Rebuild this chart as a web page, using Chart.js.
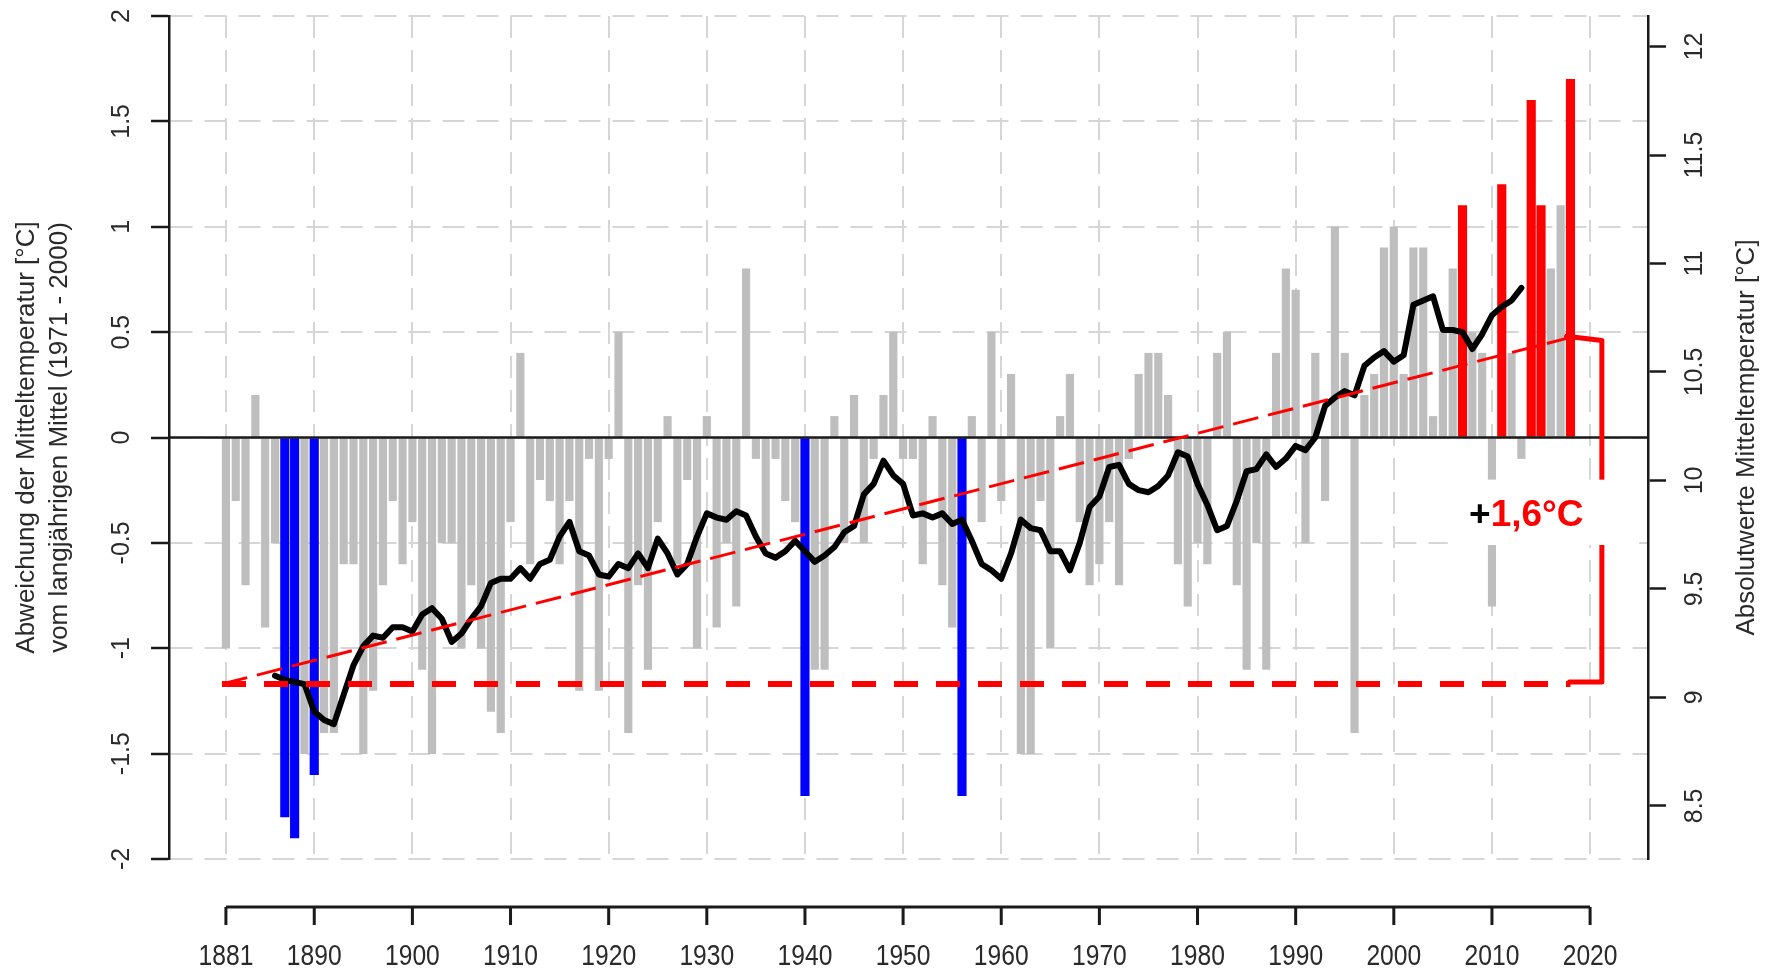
<!DOCTYPE html>
<html lang="de">
<head>
    <meta charset="UTF-8">
    <title>Abweichung der Mitteltemperatur 1881 - 2018</title>
    <script src="https://cdn.jsdelivr.net/npm/chart.js"></script>
    <style>
        html, body {
            margin: 0;
            padding: 0;
            background: #fff;
        }

        #wrap {
            width: 1778px;
            height: 972px;
        }
    </style>
</head>
<body>
    <div id="wrap">
        <canvas id="tempChart" width="1778" height="972"></canvas>
    </div>

    <script>
        // Jahresabweichung vom Mittel 1971-2000, 1881 bis 2018
        const firstYear = 1881;
        const anomalies = [
            -1.0, -0.3, -0.7, 0.2, -0.9, -0.5, -1.8, -1.9, -1.5, -1.6,   // 1881-1890
            -1.4, -1.4, -0.6, -0.6, -1.5, -1.2, -0.7, -0.3, -0.6, -0.4,  // 1891-1900
            -1.1, -1.5, -0.5, -0.5, -1.0, -0.7, -1.0, -1.3, -1.4, -0.4,  // 1901-1910
            0.4, -0.6, -0.2, -0.3, -0.6, -0.3, -1.2, -0.1, -1.2, -0.1,   // 1911-1920
            0.5, -1.4, -0.7, -1.1, -0.4, 0.1, -0.6, -0.2, -1.0, 0.1,     // 1921-1930
            -0.9, -0.5, -0.8, 0.8, -0.1, -0.5, -0.1, -0.3, -0.4, -1.7,   // 1931-1940
            -1.1, -1.1, 0.1, -0.5, 0.2, -0.5, -0.1, 0.2, 0.5, -0.1,      // 1941-1950
            -0.1, -0.6, 0.1, -0.7, -0.9, -1.7, 0.1, -0.4, 0.5, -0.3,     // 1951-1960
            0.3, -1.5, -1.5, -0.3, -1.0, 0.1, 0.3, -0.4, -0.7, -0.6,     // 1961-1970
            -0.4, -0.7, -0.1, 0.3, 0.4, 0.4, 0.2, -0.6, -0.8, -0.5,      // 1971-1980
            -0.6, 0.4, 0.5, -0.7, -1.1, -0.5, -1.1, 0.4, 0.8, 0.7,       // 1981-1990
            -0.5, 0.4, -0.3, 1.0, 0.4, -1.4, 0.2, 0.3, 0.9, 1.0,         // 1991-2000
            0.3, 0.9, 0.9, 0.1, 0.5, 0.8, 1.1, 0.5, 0.4, -0.8,           // 2001-2010
            1.2, 0.4, -0.1, 1.6, 1.1, 0.8, 1.1, 1.7                      // 2011-2018
        ];

        // die kaeltesten und waermsten Jahre
        const coldYears = [1887, 1888, 1890, 1940, 1956];
        const warmYears = [2007, 2011, 2014, 2015, 2018];

        // gleitendes Mittel (schwarze Linie)
        const meanFirstYear = 1886;
        const runningMean = [
            -1.13, -1.15, -1.16, -1.17, -1.30, -1.34, -1.36, -1.22, -1.08, -0.99, // 1886-1895
            -0.94, -0.95, -0.90, -0.90, -0.92, -0.84, -0.81, -0.86, -0.97, -0.93, // 1896-1905
            -0.86, -0.80, -0.69, -0.67, -0.67, -0.62, -0.67, -0.60, -0.58, -0.47, // 1906-1915
            -0.40, -0.54, -0.56, -0.65, -0.66, -0.60, -0.62, -0.55, -0.62, -0.48, // 1916-1925
            -0.55, -0.65, -0.60, -0.47, -0.36, -0.38, -0.39, -0.35, -0.37, -0.47, // 1926-1935
            -0.55, -0.57, -0.54, -0.49, -0.54, -0.59, -0.56, -0.52, -0.45, -0.42, // 1936-1945
            -0.27, -0.22, -0.11, -0.18, -0.22, -0.37, -0.36, -0.38, -0.36, -0.41, // 1946-1955
            -0.39, -0.49, -0.60, -0.63, -0.67, -0.55, -0.39, -0.43, -0.44, -0.54, // 1956-1965
            -0.54, -0.63, -0.50, -0.33, -0.28, -0.14, -0.13, -0.22, -0.25, -0.26, // 1966-1975
            -0.23, -0.18, -0.07, -0.09, -0.22, -0.32, -0.44, -0.42, -0.30, -0.16, // 1976-1985
            -0.15, -0.08, -0.14, -0.10, -0.04, -0.06, 0.00, 0.15, 0.19, 0.22,     // 1986-1995
            0.20, 0.34, 0.38, 0.41, 0.36, 0.39, 0.63, 0.65, 0.67, 0.51,           // 1996-2005
            0.51, 0.50, 0.42, 0.49, 0.58, 0.62, 0.65, 0.71                        // 2006-2013
        ];

        // linearer Trend und Bezugslinie
        const trendYears = [1880.6, 2018];
        const trendValues = [-1.17, 0.475];
        const baseYears = [1880.6, 2018];
        const baseValues = [-1.17, -1.17];

        // Klammer rechts und Beschriftung
        const bracketYears = [2017.6, 2021.2, 2021.2, 2017.9];
        const bracketValues = [0.48, 0.46, -1.16, -1.16];
        const labelBoxYears = [2005.5, 2025.0];
        const labelBoxValues = [-0.51, -0.2];
        const labelYear = 2013.5;
        const labelValue = -0.42;
        const labelPlus = '+';
        const labelText = '1,6°C';

        // Achsen
        const xTicks = [1881, 1890, 1900, 1910, 1920, 1930, 1940, 1950, 1960, 1970, 1980, 1990, 2000, 2010, 2020];
        const leftTicks = [-2, -1.5, -1, -0.5, 0, 0.5, 1, 1.5, 2];
        const rightTicks = [8.5, 9, 9.5, 10, 10.5, 11, 11.5, 12];
        const leftTitle = ['Abweichung der Mitteltemperatur [°C]', 'vom langjährigen Mittel (1971 - 2000)'];
        const rightTitle = 'Absolutwerte Mitteltemperatur [°C]';

        const years = anomalies.map((v, i) => firstYear + i);
        const allBars = years.map((yr, i) => ({ x: yr, y: anomalies[i] }));
        const grayBars = allBars.filter(p => !coldYears.includes(p.x) && !warmYears.includes(p.x));
        const blueBars = allBars.filter(p => coldYears.includes(p.x));
        const redBars = allBars.filter(p => warmYears.includes(p.x));
        const meanPoints = runningMean.map((v, i) => ({ x: meanFirstYear + i, y: v }));
        const toPoints = (xs, ys) => xs.map((v, i) => ({ x: v, y: ys[i] }));

        const gridColor = '#d6d6d6';
        const axisColor = '#1a1a1a';
        const textColor = '#2a2a2a';
        const sansFont = "'Liberation Sans', Arial, sans-serif";

        function lineSet(points, color, width, dash, order) {
            return {
                type: 'line',
                data: points,
                borderColor: color,
                borderWidth: width,
                borderDash: dash,
                borderJoinStyle: 'round',
                borderCapStyle: dash.length ? 'butt' : 'round',
                pointRadius: 0,
                fill: false,
                tension: 0,
                order: order
            };
        }

        function drawRotated(ctx, text, x, y, font, color) {
            ctx.save();
            ctx.translate(x, y);
            ctx.rotate(-Math.PI / 2);
            ctx.font = font;
            ctx.fillStyle = color;
            ctx.textAlign = 'center';
            ctx.textBaseline = 'middle';
            ctx.fillText(text, 0, 0);
            ctx.restore();
        }

        const decor = {
            id: 'decor',
            afterDatasetDraw(chart, args) {
                // Nulllinie ueber den Balken, unter den Linien
                if (args.index !== 2) return;
                const { ctx, chartArea, scales } = chart;
                const y0 = scales.y.getPixelForValue(0);
                ctx.save();
                ctx.strokeStyle = axisColor;
                ctx.lineWidth = 2.5;
                ctx.beginPath();
                ctx.moveTo(chartArea.left, y0);
                ctx.lineTo(chartArea.right, y0);
                ctx.stroke();
                ctx.restore();
            },
            afterDatasetsDraw(chart) {
                const { ctx, scales: { x, y } } = chart;
                const left = x.getPixelForValue(labelBoxYears[0]);
                const right = x.getPixelForValue(labelBoxYears[1]);
                const top = y.getPixelForValue(labelBoxValues[1]);
                const bottom = y.getPixelForValue(labelBoxValues[0]);
                ctx.save();
                ctx.fillStyle = '#fff';
                ctx.fillRect(left, top, right - left, bottom - top);

                ctx.font = "bold 37px " + sansFont;
                ctx.textBaseline = 'alphabetic';
                ctx.textAlign = 'left';
                const wPlus = ctx.measureText(labelPlus).width;
                const wText = ctx.measureText(labelText).width;
                const cx = x.getPixelForValue(labelYear);
                const by = y.getPixelForValue(labelValue);
                const startX = cx - (wPlus + wText) / 2;
                ctx.fillStyle = '#000';
                ctx.fillText(labelPlus, startX, by);
                ctx.fillStyle = '#ff0000';
                ctx.fillText(labelText, startX + wPlus, by);
                ctx.restore();
            },
            afterDraw(chart) {
                const { ctx, chartArea, scales: { x, y, y2 } } = chart;
                const tickFont = "25px " + sansFont;

                // linke Achse: Beschriftung gedreht
                leftTicks.forEach(v => {
                    drawRotated(ctx, String(v), chartArea.left - 47, y.getPixelForValue(v), tickFont, textColor);
                });
                // rechte Achse
                rightTicks.forEach(v => {
                    drawRotated(ctx, String(v), chartArea.right + 47, y2.getPixelForValue(v), tickFont, textColor);
                });

                // Achsentitel
                const midY = (chartArea.top + chartArea.bottom) / 2;
                drawRotated(ctx, leftTitle[0], 27, midY, "26px " + sansFont, textColor);
                drawRotated(ctx, leftTitle[1], 60, midY, "26px " + sansFont, textColor);
                drawRotated(ctx, rightTitle, chartArea.right + 99, midY, "26px " + sansFont, textColor);

                // abgesetzte x-Achse unten
                const axisY = chartArea.bottom + 48;
                const x0 = x.getPixelForValue(xTicks[0]);
                const x1 = x.getPixelForValue(xTicks[xTicks.length - 1]);
                ctx.save();
                ctx.strokeStyle = axisColor;
                ctx.lineWidth = 3;
                ctx.beginPath();
                ctx.moveTo(x0, axisY);
                ctx.lineTo(x1, axisY);
                xTicks.forEach(v => {
                    const px = x.getPixelForValue(v);
                    ctx.moveTo(px, axisY);
                    ctx.lineTo(px, axisY + 18);
                });
                ctx.stroke();

                // schmale Schrift wie im Original
                ctx.font = "29px " + sansFont;
                ctx.fillStyle = textColor;
                ctx.textAlign = 'center';
                ctx.textBaseline = 'middle';
                xTicks.forEach(v => {
                    ctx.save();
                    ctx.translate(x.getPixelForValue(v), axisY + 50);
                    ctx.scale(0.85, 1);
                    ctx.fillText(String(v), 0, 0);
                    ctx.restore();
                });
                ctx.restore();
            }
        };

        new Chart(document.getElementById('tempChart'), {
            type: 'bar',
            data: {
                datasets: [
                    {
                        data: grayBars,
                        backgroundColor: '#bebebe',
                        borderWidth: 0,
                        barThickness: 7.5,
                        grouped: false,
                        order: 7
                    },
                    {
                        data: blueBars,
                        backgroundColor: '#0000ff',
                        borderWidth: 0,
                        barThickness: 8.5,
                        grouped: false,
                        order: 6
                    },
                    {
                        data: redBars,
                        backgroundColor: '#ff0000',
                        borderWidth: 0,
                        barThickness: 8.5,
                        grouped: false,
                        order: 5
                    },
                    lineSet(meanPoints, '#000', 6, [], 4),
                    lineSet(toPoints(trendYears, trendValues), '#ff0000', 3, [26, 10], 3),
                    lineSet(toPoints(baseYears, baseValues), '#ff0000', 6, [24, 18], 2),
                    lineSet(toPoints(bracketYears, bracketValues), '#ff0000', 5, [], 1)
                ]
            },
            options: {
                responsive: false,
                animation: false,
                devicePixelRatio: 1,
                layout: {
                    padding: { top: 16, left: 0, right: 0, bottom: 0 }
                },
                plugins: {
                    legend: { display: false },
                    tooltip: { enabled: false }
                },
                scales: {
                    x: {
                        type: 'linear',
                        min: 1875.2,
                        max: 2025.9,
                        offset: false,
                        afterFit: s => { s.height = 113; },
                        afterBuildTicks: s => { s.ticks = xTicks.map(v => ({ value: v })); },
                        ticks: { display: false },
                        grid: { color: gridColor, lineWidth: 2, drawTicks: false, offset: false },
                        border: { display: false, dash: [22, 12] }
                    },
                    y: {
                        position: 'left',
                        min: -2,
                        max: 2,
                        afterFit: s => { s.width = 169; },
                        afterBuildTicks: s => { s.ticks = leftTicks.map(v => ({ value: v })); },
                        ticks: { display: false },
                        grid: {
                            color: gridColor,
                            lineWidth: 2,
                            drawTicks: true,
                            tickLength: 18,
                            tickColor: axisColor,
                            tickWidth: 2.5
                        },
                        border: { display: true, color: axisColor, width: 2.5, dash: [22, 12] }
                    },
                    y2: {
                        position: 'right',
                        min: 8.255,
                        max: 12.141,
                        afterFit: s => { s.width = 130; },
                        afterBuildTicks: s => { s.ticks = rightTicks.map(v => ({ value: v })); },
                        ticks: { display: false },
                        grid: {
                            drawOnChartArea: false,
                            drawTicks: true,
                            tickLength: 18,
                            tickColor: axisColor,
                            tickWidth: 2.5
                        },
                        border: { display: true, color: axisColor, width: 2.5 }
                    }
                }
            },
            plugins: [decor]
        });
    </script>
</body>
</html>
